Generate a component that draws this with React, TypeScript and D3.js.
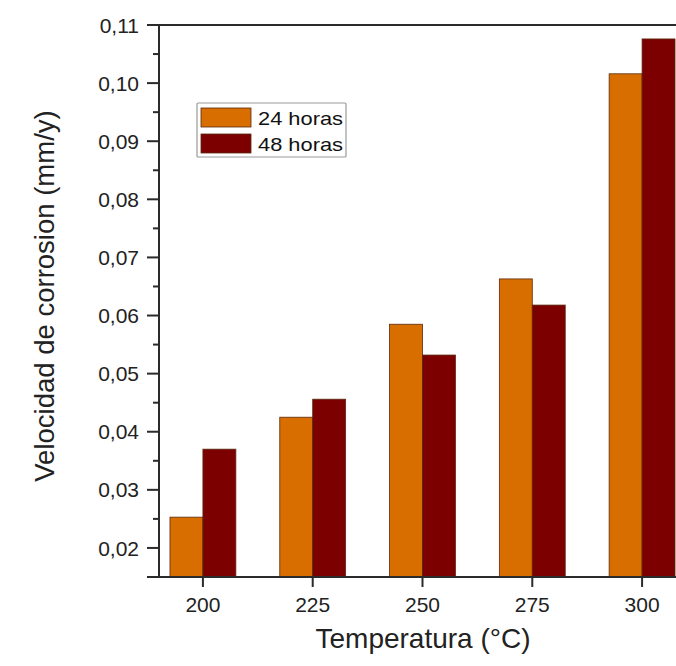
import React from "react";
import * as d3 from "d3";

const categories = [200, 225, 250, 275, 300];
const series24 = [0.0253, 0.0425, 0.0585, 0.0663, 0.1016];
const series48 = [0.037, 0.0456, 0.0532, 0.0618, 0.1076];
const seriesNames = ["24 horas", "48 horas"];
const seriesColors = ["#D86E00", "#7C0000"];
const yMajorTicks = [0.02, 0.03, 0.04, 0.05, 0.06, 0.07, 0.08, 0.09, 0.1, 0.11];
const yMinorTicks = [0.015, 0.025, 0.035, 0.045, 0.055, 0.065, 0.075, 0.085, 0.095, 0.105];

export default function App() {
  const W = 676, H = 666;
  const left = 159, right = 686, top = 25, bottom = 577;
  const x = d3.scaleLinear().domain([190, 310]).range([left, right]);
  const y = d3.scaleLinear().domain([0.015, 0.11]).range([bottom, top]);
  const barW = (x(225) - x(200)) * 0.3;
  const font = "'Liberation Sans', Arial, sans-serif";
  const axisColor = "#2b2b2b";
  const fmt = (v: number) => d3.format(".2f")(v).replace(".", ",");
  const all = [series24, series48];

  return (
    <svg width={W} height={H} style={{ position: "absolute", left: 0, top: 0, background: "#fff" }} fontFamily={font}>
      {all.map((s, si) =>
        s.map((v, i) => (
          <rect
            key={`${si}-${i}`}
            x={x(categories[i]) - barW + si * barW}
            y={y(v)}
            width={barW}
            height={y(0.015) - y(v)}
            fill={seriesColors[si]}
            stroke="#5a2a10"
            strokeWidth={0.8}
          />
        ))
      )}
      {/* frame */}
      <line x1={left} x2={W + 10} y1={top} y2={top} stroke={axisColor} strokeWidth={2} />
      <line x1={left} x2={left} y1={top} y2={bottom} stroke={axisColor} strokeWidth={2} />
      <line x1={left - 12} x2={W + 10} y1={bottom} y2={bottom} stroke={axisColor} strokeWidth={2} />
      {/* y ticks */}
      {yMajorTicks.map((t) => (
        <g key={t}>
          <line x1={left - 12} x2={left} y1={y(t)} y2={y(t)} stroke={axisColor} strokeWidth={2} />
          <text x={139} y={y(t)} dy="0.36em" textAnchor="end" fontSize={21} fill="#222">
            {fmt(t)}
          </text>
        </g>
      ))}
      {yMinorTicks.map((t) => (
        <line key={t} x1={left - 6} x2={left} y1={y(t)} y2={y(t)} stroke={axisColor} strokeWidth={2} />
      ))}
      {/* x ticks */}
      {categories.map((c) => (
        <g key={c}>
          <line x1={x(c)} x2={x(c)} y1={bottom} y2={bottom + 10} stroke={axisColor} strokeWidth={2} />
          <text x={x(c)} y={612} textAnchor="middle" fontSize={21} fill="#222">
            {c}
          </text>
        </g>
      ))}
      <text x={423} y={648} textAnchor="middle" fontSize={28} fill="#222">
        Temperatura (°C)
      </text>
      <text transform={`translate(54,296) rotate(-90)`} textAnchor="middle" fontSize={27.5} fill="#222">
        Velocidad de corrosion (mm/y)
      </text>
      {/* legend */}
      <rect x={197} y={103} width={149} height={54} fill="#fff" stroke="#999" strokeWidth={1.2} rx={1} />
      {seriesNames.map((n, i) => (
        <g key={n}>
          <rect x={201} y={108 + i * 26} width={50} height={19} fill={seriesColors[i]} stroke="#5a2a10" strokeWidth={0.8} />
          <text x={258} y={124.5 + i * 26} fontSize={19} textLength={85} lengthAdjust="spacingAndGlyphs" fill="#111">
            {n}
          </text>
        </g>
      ))}
    </svg>
  );
}
